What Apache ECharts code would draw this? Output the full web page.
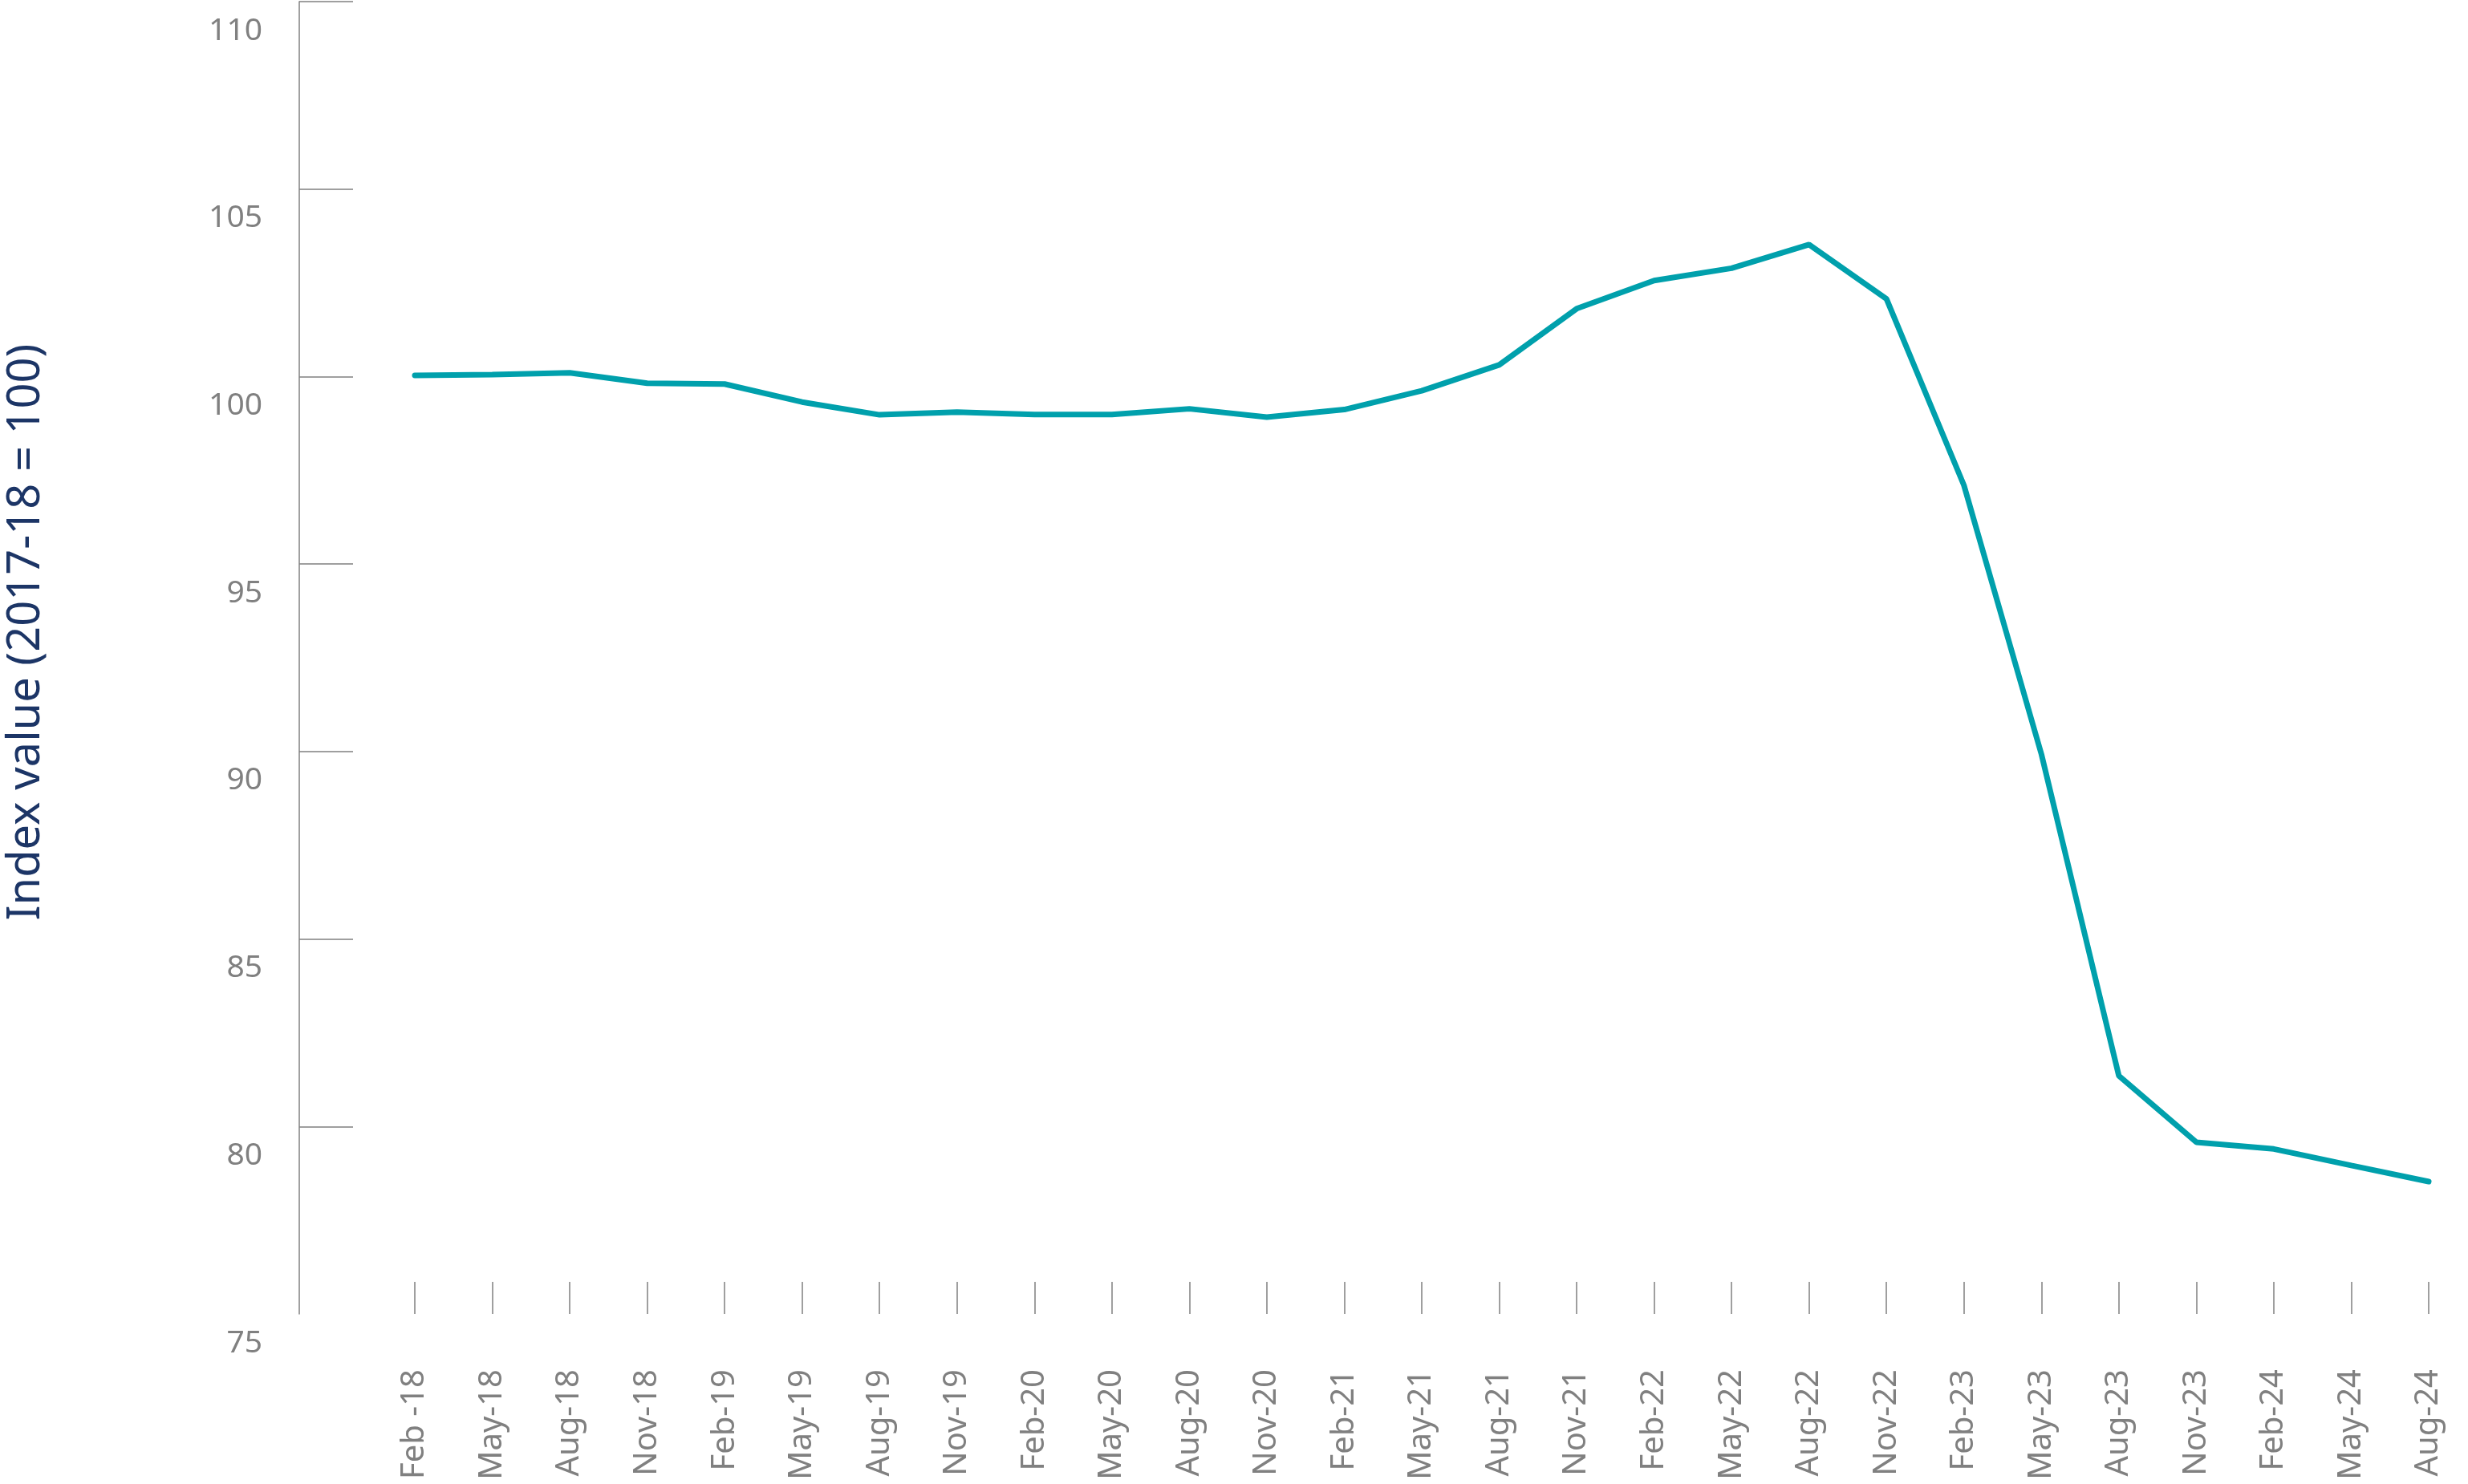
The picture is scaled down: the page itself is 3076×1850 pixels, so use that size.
<!DOCTYPE html>
<html>
<head>
<meta charset="utf-8">
<script src="https://cdn.jsdelivr.net/npm/echarts@6/dist/echarts.min.js"></script>
<style>
html,body{margin:0;padding:0;background:#fff;}
#chart{width:3076px;height:1850px;}
</style>
</head>
<body>
<div id="chart"></div>
<script>
const categories = ["Feb -18","May-18","Aug-18","Nov-18","Feb-19","May-19","Aug-19","Nov-19","Feb-20","May-20","Aug-20","Nov-20","Feb-21","May-21","Aug-21","Nov-21","Feb-22","May-22","Aug-22","Nov-22","Feb-23","May-23","Aug-23","Nov-23","Feb-24","May-24","Aug-24"];
const indexValues = [100.03,100.05,100.10,99.82,99.80,99.32,98.98,99.05,98.99,98.99,99.14,98.92,99.12,99.62,100.31,101.81,102.56,102.89,103.52,102.07,97.10,89.93,81.35,79.58,79.40,78.96,78.53];
const yTickValues = [80,85,90,95,100,105,110];
const yTitle = "Index value (2017-18 = 100)";

const grey = '#808080';
const chart = echarts.init(document.getElementById('chart'));
chart.setOption({
  animation: false,
  grid: {left: 517, right: 49, top: 2, bottom: 212, containLabel: false, outerBoundsMode: 'none'},
  xAxis: {
    type: 'category',
    data: categories,
    boundaryGap: false,
    axisLine: {show: false},
    axisTick: {show: true, inside: true, length: 40, interval: 0, lineStyle: {color: grey, width: 1.5}},
    axisLabel: {interval: 0, rotate: 90, margin: 69, color: grey, fontSize: 40, fontFamily: 'Noto Sans'},
    splitLine: {show: false}
  },
  yAxis: {
    type: 'value',
    min: 75, max: 110, interval: 5,
    offset: 144,
    name: yTitle,
    nameLocation: 'middle',
    nameGap: 312,
    nameRotate: 90,
    nameTextStyle: {color: '#1c3566', fontSize: 56, fontFamily: 'Noto Sans', padding: [0,0,0,64]},
    axisLine: {show: true, lineStyle: {color: grey, width: 1.5}},
    axisTick: {show: true, inside: true, length: 67, customValues: yTickValues, lineStyle: {color: grey, width: 1.5}},
    axisLabel: {color: grey, fontSize: 39, fontFamily: 'Noto Sans', margin: 46, verticalAlign: 'top', padding: [17,0,0,0]},
    splitLine: {show: false}
  },
  series: [{
    type: 'line',
    data: indexValues,
    symbol: 'none',
    lineStyle: {color: '#00a0ac', width: 7, cap: 'round'},
    itemStyle: {color: '#00a0ac'}
  }]
});
</script>
</body>
</html>
